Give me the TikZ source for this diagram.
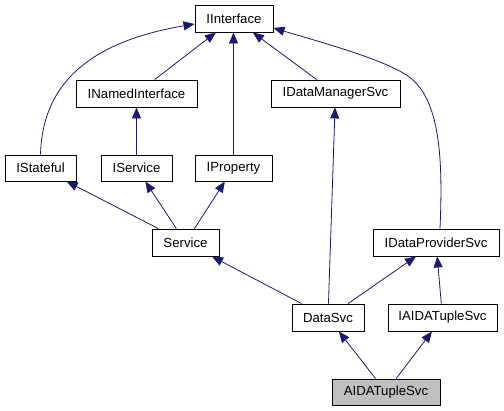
\documentclass[tikz,border=0pt]{standalone}
\usepackage{fontspec}
\setmainfont{Liberation Sans}
\usetikzlibrary{arrows.meta,calc}
\definecolor{edgeblue}{RGB}{25,25,112}
\definecolor{curfill}{RGB}{191,191,191}
\tikzset{
  cls/.style={draw=black, line width=0.9bp, fill=white, inner sep=0pt, font=\fontsize{13.2bp}{15bp}\selectfont, text=black},
  edge/.style={draw=edgeblue, line width=0.8bp, -{Triangle[length=11bp,width=9bp]}, fill=none}
}
\begin{document}
\begin{tikzpicture}[x=1bp,y=-1bp]
\useasboundingbox (0,0) rectangle (504,410);
\fill[white] (0,0) rectangle (504,410);
\node[cls, minimum width=78bp, minimum height=27bp] (iinterface) at (234,18.5) {IInterface};
\node[cls, minimum width=121bp, minimum height=27bp] (inamed) at (136.5,93.5) {INamedInterface};
\node[cls, minimum width=129bp, minimum height=27bp] (idatamgr) at (335.5,93.5) {IDataManagerSvc};
\node[cls, minimum width=71bp, minimum height=26bp] (istateful) at (40.5,168) {IStateful};
\node[cls, minimum width=71bp, minimum height=26bp] (iservice) at (136.5,168) {IService};
\node[cls, minimum width=77bp, minimum height=26bp] (iproperty) at (233.5,168) {IProperty};
\node[cls, minimum width=67bp, minimum height=27bp] (service) at (185.5,242.5) {Service};
\node[cls, minimum width=126bp, minimum height=27bp] (idataprov) at (436,242.5) {IDataProviderSvc};
\node[cls, minimum width=72bp, minimum height=27bp] (datasvc) at (328,317.5) {DataSvc};
\node[cls, minimum width=109bp, minimum height=27bp] (iaida) at (442.5,317.5) {IAIDATupleSvc};
\node[cls, fill=curfill, minimum width=108bp, minimum height=26bp] (aida) at (386,392) {AIDATupleSvc};

\draw[edge] (inamed) -- (iinterface);
\draw[edge] (idatamgr) -- (iinterface);
\draw[edge] (iproperty.north) -- (iproperty.north |- iinterface.south);
\draw[edge] (istateful.north) .. controls (42,100) and (70,45) .. ($(iinterface.west)+(0,5.5)$);
\draw[edge] ($(idataprov.north)+(4,0)$) .. controls (443,160) and (440,105) .. (413,80)
   .. controls (393,61.5) and (320,42) .. ($(iinterface.east)+(0,9.5)$);
\draw[edge] (iservice) -- (inamed);
\draw[edge] (service) -- (istateful);
\draw[edge] (service) -- (iservice);
\draw[edge] (service) -- (iproperty);
\draw[edge] (datasvc) -- (service);
\draw[edge] (datasvc) -- (idatamgr);
\draw[edge] (datasvc) -- (idataprov);
\draw[edge] (iaida) -- (idataprov);
\draw[edge] (aida) -- (datasvc);
\draw[edge] (aida) -- (iaida);
\end{tikzpicture}
\end{document}
